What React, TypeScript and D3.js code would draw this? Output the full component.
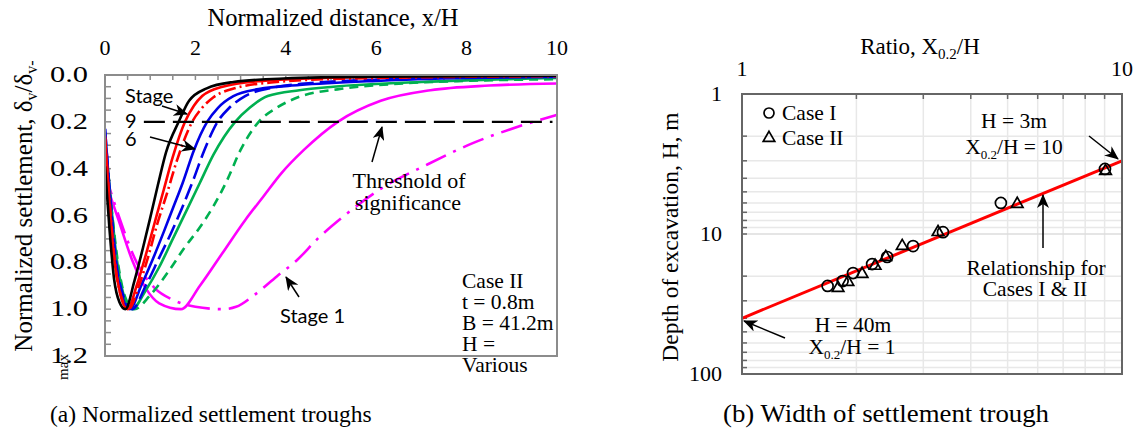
import React from 'react';
import * as d3 from 'd3';

// ---- Panel (a): normalized settlement troughs, [x/H, δv/δv-max] ----
const stage9 = [[0, 0.39], [0.1, 0.66], [0.2, 0.87], [0.32, 0.97], [0.45, 1.0], [0.65, 0.88], [0.85, 0.73], [1.0, 0.61], [1.17, 0.47], [1.35, 0.33], [1.63, 0.2], [1.86, 0.11], [2.25, 0.057], [2.84, 0.03], [3.95, 0.015], [6, 0.007], [10, 0.003]];
const stage8 = [[0, 0.26], [0.1, 0.55], [0.2, 0.78], [0.33, 0.93], [0.5, 1.0], [0.7, 0.9], [0.9, 0.77], [1.1, 0.63], [1.3, 0.49], [1.5, 0.35], [1.77, 0.2], [1.97, 0.13], [2.15, 0.09], [2.6, 0.05], [3.5, 0.025], [5, 0.012], [7, 0.006], [10, 0.003]];
const stage7 = [[0, 0.27], [0.11, 0.56], [0.22, 0.8], [0.35, 0.94], [0.52, 1.0], [0.75, 0.9], [0.95, 0.78], [1.15, 0.64], [1.38, 0.5], [1.6, 0.36], [1.93, 0.2], [2.15, 0.14], [2.4, 0.095], [2.9, 0.055], [3.8, 0.03], [5.5, 0.015], [10, 0.005]];
const stage6 = [[0, 0.23], [0.1, 0.5], [0.22, 0.78], [0.36, 0.93], [0.55, 1.0], [0.8, 0.9], [1.05, 0.79], [1.3, 0.67], [1.5, 0.57], [1.72, 0.46], [1.97, 0.32], [2.26, 0.2], [2.5, 0.14], [2.84, 0.09], [3.4, 0.06], [4.3, 0.043], [6, 0.025], [8, 0.013], [10, 0.008]];
const stage5 = [[0, 0.23], [0.12, 0.53], [0.25, 0.8], [0.4, 0.94], [0.6, 1.0], [0.9, 0.9], [1.2, 0.78], [1.45, 0.68], [1.7, 0.57], [1.95, 0.45], [2.2, 0.32], [2.49, 0.2], [2.75, 0.14], [3.1, 0.09], [3.7, 0.055], [4.5, 0.035], [6, 0.02], [8, 0.01], [10, 0.006]];
const stage4 = [[0, 0.26], [0.12, 0.52], [0.25, 0.77], [0.4, 0.93], [0.6, 1.0], [0.9, 0.92], [1.2, 0.82], [1.5, 0.7], [1.8, 0.58], [2.1, 0.46], [2.4, 0.34], [2.88, 0.2], [3.2, 0.14], [3.6, 0.09], [4.3, 0.065], [5.05, 0.05], [7, 0.03], [10, 0.013]];
const stage3 = [[0, 0.3], [0.15, 0.58], [0.3, 0.82], [0.45, 0.95], [0.65, 1.0], [1.0, 0.94], [1.4, 0.84], [1.75, 0.74], [2.1, 0.65], [2.4, 0.56], [2.7, 0.45], [3.0, 0.32], [3.4, 0.2], [3.8, 0.14], [4.3, 0.093], [5.2, 0.06], [6.5, 0.037], [8, 0.025], [10, 0.018]];
const stage2 = [[0, 0.45], [0.3, 0.62], [0.6, 0.79], [0.9, 0.91], [1.2, 0.975], [1.68, 1.0], [2.1, 0.9], [2.6, 0.76], [3.1, 0.62], [3.5, 0.52], [3.9, 0.42], [4.4, 0.32], [5.15, 0.2], [6.1, 0.11], [7.2, 0.065], [8.5, 0.045], [10, 0.036]];
const stage1 = [[0, 0.42], [0.3, 0.6], [0.7, 0.8], [1.1, 0.91], [1.5, 0.96], [2.0, 0.99], [2.6, 1.0], [2.9, 0.99], [3.3, 0.94], [3.8, 0.86], [4.25, 0.79], [4.7, 0.7], [5.3, 0.6], [6.15, 0.48], [7.1, 0.385], [8.15, 0.29], [9.15, 0.22], [10, 0.17]];

const thresholdValue = 0.2;
const thresholdFrom = 0.86;
const thresholdTo = 9.9;

const distanceTicks = [0, 2, 4, 6, 8, 10];
const settlementTicks = [0, 0.2, 0.4, 0.6, 0.8, 1.0, 1.2];

// ---- Panel (b): width of settlement trough ----
const caseIRatio = [1.68, 1.84, 1.96, 2.2, 2.41, 2.82, 3.38, 4.8, 9.02];
const caseIDepth = [23.5, 21.7, 19.0, 16.4, 14.6, 12.2, 9.7, 6.0, 3.43];
const caseIIRatio = [1.79, 1.9, 2.07, 2.24, 2.39, 2.64, 3.28, 5.3, 9.05];
const caseIIDepth = [24.3, 22.0, 19.3, 16.9, 14.6, 12.2, 9.7, 6.1, 3.55];
const relationRatio = [1, 10];
const relationDepth = [40, 3];

const ratioTickLabels = [1, 10];
const depthTickLabels = [1, 10, 100];

const series = [
  { points: stage1, color: '#ff00ff', dash: '22,8,3,8' },
  { points: stage2, color: '#ff00ff', dash: null },
  { points: stage3, color: '#00b050', dash: '9,6' },
  { points: stage4, color: '#00b050', dash: null },
  { points: stage5, color: '#0000e6', dash: '16,6' },
  { points: stage6, color: '#0000e6', dash: null },
  { points: stage7, color: '#ff0000', dash: '12,4,2,4' },
  { points: stage8, color: '#ff0000', dash: null },
  { points: stage9, color: '#000000', dash: null },
];

const SERIF = '"Liberation Serif", "Times New Roman", serif';
const SANS = 'Lato, "Open Sans", sans-serif';

export default function App() {
  // panel (a) scales
  const xL = d3.scaleLinear().domain([0, 10]).range([105, 557]);
  const yL = d3.scaleLinear().domain([0, 1.2]).range([75, 356]);
  const line = d3
    .line<number[]>()
    .x((d) => xL(d[0]))
    .y((d) => yL(d[1]))
    .curve(d3.curveMonotoneX);

  // panel (b) scales
  const xR = d3.scaleLog().domain([1, 10]).range([742, 1122]);
  const yR = d3.scaleLog().domain([1, 100]).range([94, 374]);

  const minorX = d3.range(0, 10.001, 0.5);
  const minorY = d3.range(0, 1.2001, 0.05);

  const ratioMinor = [2, 3, 4, 5, 6, 7, 8, 9];
  const depthMinor = [2, 3, 4, 5, 6, 7, 8, 9, 10, 20, 30, 40, 50, 60, 70, 80, 90];

  const tri = d3.symbol().type(d3.symbolTriangle).size(58)();

  return (
    <svg
      width={1145}
      height={432}
      style={{ position: 'absolute', left: 0, top: 0, background: '#fff' }}
    >
      <defs>
        <marker
          id="arrowHead"
          markerUnits="userSpaceOnUse"
          markerWidth={14}
          markerHeight={12}
          refX={13}
          refY={6}
          orient="auto"
        >
          <path d="M0,0 L14,6 L0,12 L4,6 Z" fill="#000" />
        </marker>
        <clipPath id="clipA">
          <rect x={105} y={74} width={452} height={282} />
        </clipPath>
      </defs>

      {/* ===== Panel (a) ===== */}
      <text x={333} y={26} fontFamily={SERIF} fontSize={24.5} textAnchor="middle">
        Normalized distance, x/H
      </text>
      {distanceTicks.map((t) => (
        <text key={`xl${t}`} x={xL(t)} y={55} fontFamily={SERIF} fontSize={22} textAnchor="middle">
          {t}
        </text>
      ))}
      {settlementTicks.map((t) => (
        <text
          key={`yl${t}`}
          x={50}
          y={yL(t) + 7}
          fontFamily={SERIF}
          fontSize={22.5}
          textLength={38}
          lengthAdjust="spacingAndGlyphs"
        >
          {t.toFixed(1)}
        </text>
      ))}
      <text
        transform="translate(32,206) rotate(-90)"
        fontFamily={SERIF}
        fontSize={25}
        textAnchor="middle"
      >
        Normalized settlement, δ
        <tspan dy={5} fontSize={16}>v</tspan>
        <tspan dy={-5}>/δ</tspan>
        <tspan dy={5} fontSize={16}>v-</tspan>
      </text>
      <text transform="translate(68,367) rotate(-90)" fontFamily={SERIF} fontSize={15} textAnchor="middle">
        max
      </text>

      {minorX.map((t) => (
        <line key={`mx${t}`} x1={xL(t)} x2={xL(t)} y1={75} y2={80} stroke="#8c8c8c" strokeWidth={1.5} />
      ))}
      {minorY.map((t) => (
        <line key={`my${t}`} x1={105} x2={111} y1={yL(t)} y2={yL(t)} stroke="#8c8c8c" strokeWidth={1.5} />
      ))}

      <g clipPath="url(#clipA)">
        {series.map((s, i) => (
          <path
            key={`s${i}`}
            d={line(s.points) || ''}
            fill="none"
            stroke={s.color}
            strokeWidth={2.6}
            strokeDasharray={s.dash || undefined}
            strokeLinejoin="round"
          />
        ))}
      </g>

      <line
        x1={xL(thresholdFrom)}
        x2={xL(thresholdTo)}
        y1={yL(thresholdValue)}
        y2={yL(thresholdValue)}
        stroke="#000"
        strokeWidth={2.4}
        strokeDasharray="21,8"
      />

      <rect x={105} y={75} width={452} height={281} fill="none" stroke="#8c8c8c" strokeWidth={2} />

      <text x={125} y={103} fontFamily={SANS} fontSize={20}>Stage</text>
      <text x={125} y={128} fontFamily={SANS} fontSize={20}>9</text>
      <text x={125} y={146} fontFamily={SANS} fontSize={20}>6</text>
      <line x1={162} y1={106} x2={187} y2={114} stroke="#000" strokeWidth={1.5} markerEnd="url(#arrowHead)" />
      <line x1={150} y1={137} x2={195} y2={149} stroke="#000" strokeWidth={1.5} markerEnd="url(#arrowHead)" />

      <text x={409} y={188} fontFamily={SERIF} fontSize={22} textAnchor="middle">Threshold of</text>
      <text x={408} y={210} fontFamily={SERIF} fontSize={22} textAnchor="middle">significance</text>
      <line x1={372} y1={162} x2={382} y2={127} stroke="#000" strokeWidth={1.5} markerEnd="url(#arrowHead)" />

      <text x={280} y={323} fontFamily={SANS} fontSize={20}>Stage 1</text>
      <line x1={299} y1={297} x2={286} y2={277} stroke="#000" strokeWidth={1.5} markerEnd="url(#arrowHead)" />

      {['Case II', 't = 0.8m', 'B = 41.2m', 'H =', 'Various'].map((s, i) => (
        <text key={`c${i}`} x={462} y={288 + i * 21} fontFamily={SERIF} fontSize={21.5}>
          {s}
        </text>
      ))}

      <text x={50} y={422} fontFamily={SERIF} fontSize={23.5}>(a) Normalized settlement troughs</text>

      {/* ===== Panel (b) ===== */}
      <text x={920} y={54} fontFamily={SERIF} fontSize={23} textAnchor="middle">
        Ratio, X<tspan dy={5} fontSize={15}>0.2</tspan>
        <tspan dy={-5}>/H</tspan>
      </text>
      {ratioTickLabels.map((t) => (
        <text key={`xr${t}`} x={xR(t)} y={76} fontFamily={SERIF} fontSize={22} textAnchor="middle">
          {t}
        </text>
      ))}
      {depthTickLabels.map((t) => (
        <text key={`yr${t}`} x={722} y={yR(t) + 7} fontFamily={SERIF} fontSize={22} textAnchor="end">
          {t}
        </text>
      ))}
      <text transform="translate(678,237) rotate(-90)" fontFamily={SERIF} fontSize={23.5} textAnchor="middle">
        Depth of excavation, H, m
      </text>

      {ratioMinor.map((t) => (
        <line key={`gx${t}`} x1={xR(t)} x2={xR(t)} y1={94} y2={374} stroke="#e8e8e8" strokeWidth={1.5} />
      ))}
      {depthMinor.map((t) => (
        <line key={`gy${t}`} x1={742} x2={1122} y1={yR(t)} y2={yR(t)} stroke={t === 10 ? '#dcdcdc' : '#e8e8e8'} strokeWidth={1.5} />
      ))}
      {ratioMinor.map((t) => (
        <line key={`tx${t}`} x1={xR(t)} x2={xR(t)} y1={94} y2={99} stroke="#666" strokeWidth={1.5} />
      ))}
      {depthMinor.map((t) => (
        <line key={`ty${t}`} x1={742} x2={747} y1={yR(t)} y2={yR(t)} stroke="#666" strokeWidth={1.5} />
      ))}

      <line
        x1={xR(relationRatio[0])}
        y1={yR(relationDepth[0])}
        x2={xR(relationRatio[1])}
        y2={yR(relationDepth[1])}
        stroke="#ff0000"
        strokeWidth={3}
      />

      {caseIIRatio.map((r, i) => (
        <path
          key={`t${i}`}
          d={tri || ''}
          transform={`translate(${xR(r)},${yR(caseIIDepth[i])})`}
          fill="none"
          stroke="#000"
          strokeWidth={1.7}
        />
      ))}
      {caseIRatio.map((r, i) => (
        <circle key={`o${i}`} cx={xR(r)} cy={yR(caseIDepth[i])} r={5.5} fill="none" stroke="#000" strokeWidth={1.7} />
      ))}

      <rect x={742} y={94} width={380} height={280} fill="none" stroke="#666" strokeWidth={2} />

      {/* legend */}
      <circle cx={769} cy={113} r={5} fill="none" stroke="#000" strokeWidth={1.7} />
      <text x={782} y={120} fontFamily={SERIF} fontSize={21.5}>Case I</text>
      <path d={tri || ''} transform="translate(769,138)" fill="none" stroke="#000" strokeWidth={1.7} />
      <text x={782} y={145} fontFamily={SERIF} fontSize={21.5}>Case II</text>

      <text x={1014} y={128} fontFamily={SERIF} fontSize={21.5} textAnchor="middle">H = 3m</text>
      <text x={1014} y={154} fontFamily={SERIF} fontSize={21.5} textAnchor="middle">
        X<tspan dy={5} fontSize={13}>0.2</tspan>
        <tspan dy={-5}>/H = 10</tspan>
      </text>
      <line x1={1089} y1={136} x2={1118} y2={159} stroke="#000" strokeWidth={1.5} markerEnd="url(#arrowHead)" />

      <text x={1036} y={275} fontFamily={SERIF} fontSize={21.5} textAnchor="middle">Relationship for</text>
      <text x={1035} y={296} fontFamily={SERIF} fontSize={21.5} textAnchor="middle">Cases I &amp; II</text>
      <line x1={1043} y1={248} x2={1043} y2={195} stroke="#000" strokeWidth={1.5} markerEnd="url(#arrowHead)" />

      <text x={853} y={332} fontFamily={SERIF} fontSize={21.5} textAnchor="middle">H = 40m</text>
      <text x={852} y={354} fontFamily={SERIF} fontSize={21.5} textAnchor="middle">
        X<tspan dy={5} fontSize={13}>0.2</tspan>
        <tspan dy={-5}>/H = 1</tspan>
      </text>
      <line x1={785} y1={338} x2={744} y2={321} stroke="#000" strokeWidth={1.5} markerEnd="url(#arrowHead)" />

      <text
        x={723}
        y={422}
        fontFamily={SERIF}
        fontSize={25}
        textLength={326}
        lengthAdjust="spacingAndGlyphs"
      >
        (b) Width of settlement trough
      </text>
    </svg>
  );
}
